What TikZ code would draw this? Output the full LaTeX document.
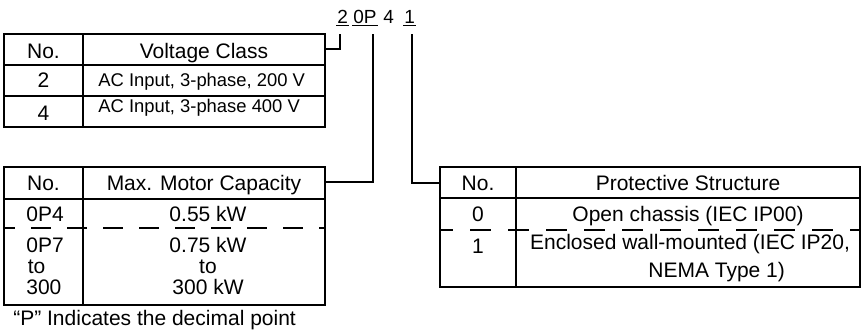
\documentclass[tikz,border=0pt]{standalone}
\usepackage{fontspec}
\setmainfont{Liberation Sans}
\begin{document}
\begin{tikzpicture}[x=1pt,y=-1pt,line width=2.7pt,
  txt/.style={inner sep=0pt,anchor=base,font=\fontsize{21}{25}\selectfont},
  small/.style={inner sep=0pt,anchor=base west,font=\fontsize{18.4}{22}\selectfont},
  code/.style={inner sep=0pt,anchor=base west,font=\fontsize{19}{23}\selectfont},
  uline/.style={line width=1.5pt},
  dashA/.style={dash pattern=on 20pt off 16pt,dash phase=9pt},
  dashB/.style={dash pattern=on 21pt off 17pt,dash phase=8pt}]
\useasboundingbox (0,0) rectangle (861,333);

% code
\node[code] (c2) at (336,23) {2};
\node[code] (c0P) at (352,23) {0P};
\node[code] (c4) at (382,23) {4};
\node[code] (c1) at (403,23) {1};
\draw[uline] ([yshift=-2.5pt]c2.base west) -- ([yshift=-2.5pt]c2.base east);
\draw[uline] ([yshift=-2.5pt]c0P.base west) -- ([yshift=-2.5pt]c0P.base east);
\draw[uline] ([yshift=-2.5pt]c1.base west) -- ([yshift=-2.5pt]c1.base east);
\coordinate (t2) at (340,34);
\coordinate (t0P) at (373,34);
\coordinate (t1) at (412,34);

% Voltage table
\draw (4,34) rectangle (325,127);
\draw (4,65) -- (325,65);
\draw (4,96) -- (325,96);
\draw (83,34) -- (83,127);
\coordinate (vR) at (325,49);
\node[txt] (vh1) at (43.5,58.5) {No.};
\node[txt] (vh2) at (204,58.5) {Voltage Class};
\node[txt] (v21) at (43.5,87.5) {2};
\node[small] (v22) at (97,86.5) {AC Input, 3-phase, 200 V};
\node[txt] (v41) at (43.5,120) {4};
\node[small] (v42) at (97,112.5) {AC Input, 3-phase 400 V};

% Max motor capacity table
\draw (4,167) rectangle (325,305);
\draw (4,199) -- (325,199);
\draw[dashA] (4,228) -- (325,228);
\draw (83,167) -- (83,305);
\coordinate (mR) at (325,182);
\node[txt] (mh1) at (43.5,190.5) {No.};
\node[txt] (mh2) at (204,190.5) {Max. Motor Capacity};
\node[txt,anchor=base west] (m11) at (25,221) {0P4};
\node[txt] (m12) at (208,221) {0.55 kW};
\node[txt,anchor=base west] (m21) at (25,252.5) {0P7};
\node[txt,anchor=base west] (m22) at (26.5,273.5) {to};
\node[txt,anchor=base west] (m23) at (25,294.5) {300};
\node[txt] (m24) at (208,252.5) {0.75 kW};
\node[txt] (m25) at (208,273.5) {to};
\node[txt] (m26) at (208,294.5) {300 kW};
\node[txt,anchor=base west] (foot) at (12,325) {“P” Indicates the decimal point};

% Protective structure table
\draw (440,167) rectangle (860,287);
\draw (440,198) -- (860,198);
\draw[dashB] (440,230) -- (860,230);
\draw (516,167) -- (516,287);
\coordinate (pL) at (440,183);
\node[txt] (ph1) at (478,190) {No.};
\node[txt] (ph2) at (688,190) {Protective Structure};
\node[txt] (p01) at (478,221.5) {0};
\node[txt] (p02) at (688,221.5) {Open chassis (IEC IP00)};
\node[txt] (p11) at (478,253.5) {1};
\node[txt] (p12) at (690,249.5) {Enclosed wall-mounted (IEC IP20,};
\node[txt,anchor=base west] (p13) at (647,277.5) {NEMA Type 1)};

% connectors
\draw (vR) -| (t2);
\draw (mR) -| (t0P);
\draw (t1) |- (pL);
\end{tikzpicture}
\end{document}
